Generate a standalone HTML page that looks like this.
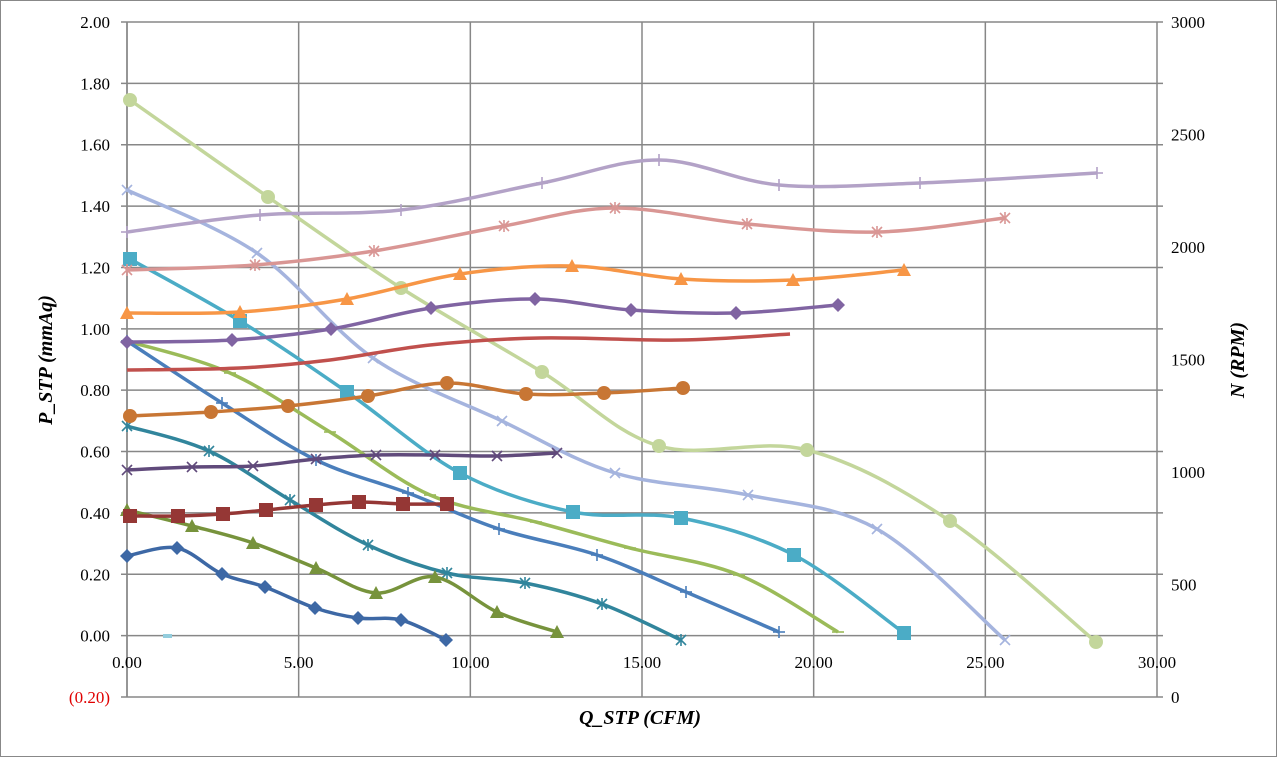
<!DOCTYPE html>
<html><head><meta charset="utf-8"><style>
body{margin:0;background:#fff}
svg{display:block}
text{font-family:"Liberation Serif",serif;font-size:17px;fill:#000}
.ax{font-weight:bold;font-style:italic;font-size:20px}
</style></head><body>
<svg id="s" width="1277" height="757" xmlns="http://www.w3.org/2000/svg">
<rect x="0.5" y="0.5" width="1276" height="756" fill="#fff" stroke="#888"/>
<g id="grid" stroke="#878787" stroke-width="1.5"></g>
<g id="lab"></g>
<g id="ser"></g>
<text class="ax" x="640" y="724" text-anchor="middle">Q_STP (CFM)</text>
<text class="ax" transform="translate(52,360) rotate(-90)" text-anchor="middle">P_STP (mmAq)</text>
<text class="ax" transform="translate(1244,360) rotate(-90)" text-anchor="middle">N (RPM)</text>
</svg>
<script>
const NS="http://www.w3.org/2000/svg";
function el(p,t,a,txt){const e=document.createElementNS(NS,t);for(const k in a)e.setAttribute(k,a[k]);if(txt!==undefined)e.textContent=txt;document.getElementById(p).appendChild(e);return e;}
const x0=127,x1=1157,yT=22,yB=697;
const dy=(yB-yT)/11;
for(let i=0;i<=11;i++){const y=yT+i*dy;el("grid","line",{x1:x0-6,x2:x1+6,y1:y,y2:y});
 const v=2-0.2*i;
 if(i<11) el("lab","text",{x:110,y:y+6,"text-anchor":"end"},v.toFixed(2));
 else el("lab","text",{x:110,y:y+6,"text-anchor":"end",style:"fill:#e00000"},"(0.20)");}
for(let i=0;i<=6;i++){const x=x0+i*(x1-x0)/6;el("grid","line",{x1:x,x2:x,y1:yT,y2:yB});
 el("lab","text",{x:x,y:668,"text-anchor":"middle"},(i*5).toFixed(2));}
for(let i=0;i<=6;i++){const y=yB-i*(yB-yT)/6;el("lab","text",{x:1171,y:y+6},String(i*500));}
el("grid","line",{x1:x0,x2:x0,y1:yT,y2:yB});
function path(pts){let d="M"+pts[0][0]+","+pts[0][1];
 for(let i=0;i<pts.length-1;i++){const p0=pts[Math.max(0,i-1)],p1=pts[i],p2=pts[i+1],p3=pts[Math.min(pts.length-1,i+2)];
 const t=6;d+=" C"+(p1[0]+(p2[0]-p0[0])/t)+","+(p1[1]+(p2[1]-p0[1])/t)+" "+(p2[0]-(p3[0]-p1[0])/t)+","+(p2[1]-(p3[1]-p1[1])/t)+" "+p2[0]+","+p2[1];}
 return d;}
function mk(m,x,y,c){const s=7;
 if(m=="d")el("ser","polygon",{points:`${x},${y-s} ${x+s},${y} ${x},${y+s} ${x-s},${y}`,fill:c});
 else if(m=="t")el("ser","polygon",{points:`${x},${y-s} ${x+s},${y+s-1} ${x-s},${y+s-1}`,fill:c});
 else if(m=="s")el("ser","rect",{x:x-s,y:y-s,width:2*s,height:2*s,fill:c});
 else if(m=="c")el("ser","circle",{cx:x,cy:y,r:s,fill:c});
 else{const g={stroke:c,"stroke-width":1.6};const r=5;
  if(m=="x"||m=="*"){el("ser","line",{x1:x-r,y1:y-r,x2:x+r,y2:y+r,...g});el("ser","line",{x1:x-r,y1:y+r,x2:x+r,y2:y-r,...g});}
  if(m=="*"||m=="+")el("ser","line",{x1:x,y1:y-r-1,x2:x,y2:y+r+1,...g});
  if(m=="+"||m=="-")el("ser","line",{x1:x-r-1,y1:y,x2:x+r+1,y2:y,...g});}}
const S=[
["#c3d69b","c",[[130,100],[268,197],[401,288],[542,372],[659,446],[807,450],[950,521],[1096,642]]],
["#a5b4de","x",[[127,190],[257,253],[373,358],[502,421],[615,473],[748,495],[877,529],[1005,640]]],
["#4bacc6","s",[[130,259],[240,321],[347,392],[460,473],[573,512],[681,518],[794,555],[904,633]]],
["#9bbb59","-",[[127,341],[230,373],[330,432],[430,495],[536,522],[630,548],[739,575],[838,632]]],
["#4a7ebb","+",[[127,341],[222,403],[316,460],[408,493],[499,529],[597,555],[686,592],[779,632]]],
["#31859c","*",[[127,426],[209,451],[290,500],[368,545],[447,573],[525,583],[602,604],[681,640]]],
["#77933c","t",[[127,510],[192,526],[253,543],[316,568],[376,593],[435,577],[497,612],[557,632]]],
["#3d68a5","d",[[127,556],[177,548],[222,574],[265,587],[315,608],[358,618],[401,620],[446,640]]],
["#604a7b","x",[[127,470],[192,467],[253,466],[316,459],[376,455],[435,455],[497,456],[557,453]]],
["#953735","s",[[130,516],[178,516],[223,514],[266,510],[316,505],[359,502],[403,504],[447,504]]],
["#c87634","c",[[130,416],[211,412],[288,406],[368,396],[447,383],[526,394],[604,393],[683,388]]],
["#c0504d","",[[127,370],[240,368],[330,360],[430,345],[540,338],[680,340],[790,334]]],
["#8064a2","d",[[127,342],[232,340],[331,329],[431,308],[535,299],[631,310],[736,313],[838,305]]],
["#f79646","t",[[127,313],[240,312],[347,299],[460,274],[572,266],[681,279],[793,280],[904,270]]],
["#d99694","*",[[127,270],[255,265],[374,251],[504,226],[615,208],[747,224],[877,232],[1005,218]]],
["#b3a2c7","+",[[127,232],[260,215],[401,210],[542,183],[659,160],[779,185],[920,183],[1097,173]]]];
for(const [c,m,p] of S){el("ser","path",{d:path(p),fill:"none",stroke:c,"stroke-width":3.5});
 if(m)for(const q of p)mk(m,q[0],q[1],c);}
el("ser","rect",{x:163,y:634,width:9,height:4,fill:"#93cddd"});
</script>
</body></html>
